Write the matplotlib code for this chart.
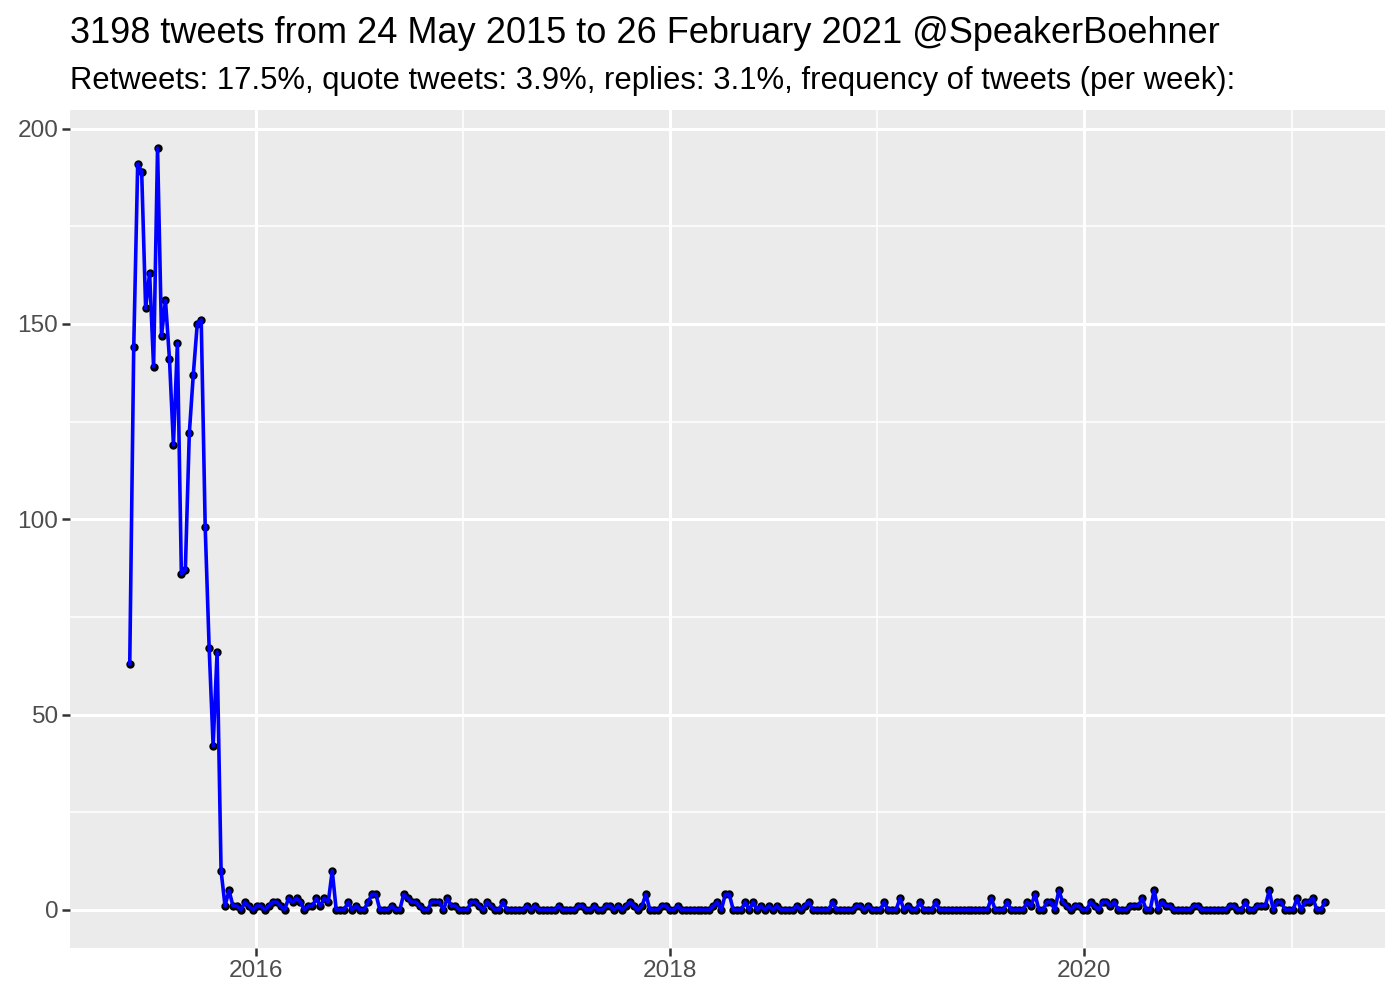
#!/usr/bin/env python3

import pandas as pd
import matplotlib
matplotlib.use("Agg")
from matplotlib import pyplot as plt
import matplotlib.dates as mdates

title = "3198 tweets from 24 May 2015 to 26 February 2021 @SpeakerBoehner"
subtitle = "Retweets: 17.5%, quote tweets: 3.9%, replies: 3.1%, frequency of tweets (per week):"

first_week = "2015-05-24"

# tweets per week
tweets_per_week = [
    63, 144, 191, 189, 154, 163, 139, 195, 147, 156, 141, 119, 145, 86, 87,
    122, 137, 150, 151, 98, 67, 42, 66, 10, 1, 5,
    1, 1, 0, 2, 1, 0, 1, 1, 0, 1,
    2, 2, 1, 0, 3, 2, 3, 2, 0, 1,
    1, 3, 1, 3, 2, 10, 0, 0, 0, 2,
    0, 1, 0, 0, 2, 4, 4, 0, 0, 0,
    1, 0, 0, 4, 3, 2, 2, 1, 0, 0,
    2, 2, 2, 0, 3, 1, 1, 0, 0, 0,
    2, 2, 1, 0, 2, 1, 0, 0, 2, 0,
    0, 0, 0, 0, 1, 0, 1, 0, 0, 0,
    0, 0, 1, 0, 0, 0, 0, 1, 1, 0,
    0, 1, 0, 0, 1, 1, 0, 1, 0, 1,
    2, 1, 0, 1, 4, 0, 0, 0, 1, 1,
    0, 0, 1, 0, 0, 0, 0, 0, 0, 0,
    0, 1, 2, 0, 4, 4, 0, 0, 0, 2,
    0, 2, 0, 1, 0, 1, 0, 1, 0, 0,
    0, 0, 1, 0, 1, 2, 0, 0, 0, 0,
    0, 2, 0, 0, 0, 0, 0, 1, 1, 0,
    1, 0, 0, 0, 2, 0, 0, 0, 3, 0,
    1, 0, 0, 2, 0, 0, 0, 2, 0, 0,
    0, 0, 0, 0, 0, 0, 0, 0, 0, 0,
    0, 3, 0, 0, 0, 2, 0, 0, 0, 0,
    2, 1, 4, 0, 0, 2, 2, 0, 5, 2,
    1, 0, 1, 1, 0, 0, 2, 1, 0, 2,
    2, 1, 2, 0, 0, 0, 1, 1, 1, 3,
    0, 0, 5, 0, 2, 1, 1, 0, 0, 0,
    0, 0, 1, 1, 0, 0, 0, 0, 0, 0,
    0, 1, 1, 0, 0, 2, 0, 0, 1, 1,
    1, 5, 0, 2, 2, 0, 0, 0, 3, 0,
    2, 2, 3, 0, 0, 2,
]

y_ticks = [0, 50, 100, 150, 200]
y_minor = [25, 75, 125, 175]


def main():
    plt.rcParams["font.family"] = ["Liberation Sans", "DejaVu Sans"]

    weeks = pd.date_range(start=first_week, periods=len(tweets_per_week), freq="7D")

    fig = plt.figure(figsize=(7, 5), dpi=200)
    ax = fig.add_axes([0.05, 0.052, 0.939, 0.838])
    ax.set_facecolor("#EBEBEB")

    ax.plot(weeks, tweets_per_week, "o", color="black", markersize=2.0, zorder=3)
    ax.plot(weeks, tweets_per_week, color="#0000FF", linewidth=1.3, zorder=4)

    # ggplot style 5% expansion
    span = weeks[-1] - weeks[0]
    ax.set_xlim(weeks[0] - span * 0.05, weeks[-1] + span * 0.05)
    lo, hi = min(tweets_per_week), max(tweets_per_week)
    ax.set_ylim(lo - (hi - lo) * 0.05, hi + (hi - lo) * 0.05)

    ax.xaxis.set_major_locator(mdates.YearLocator(2))
    ax.xaxis.set_major_formatter(mdates.DateFormatter("%Y"))
    ax.xaxis.set_minor_locator(mdates.YearLocator(1))
    ax.set_yticks(y_ticks)
    ax.set_yticks(y_minor, minor=True)

    ax.grid(which="major", color="white", linewidth=1.1)
    ax.grid(which="minor", color="white", linewidth=0.55)
    ax.set_axisbelow(True)
    for s in ax.spines.values():
        s.set_visible(False)

    ax.tick_params(which="major", length=2.75, width=0.9, color="#333333",
                   labelsize=8.8, labelcolor="#4D4D4D", pad=1.5)
    ax.tick_params(which="minor", length=0)

    fig.text(0.05, 0.957, title, fontsize=13.03, color="black")
    fig.text(0.05, 0.911, subtitle, fontsize=11.17, color="black")

    fig.savefig("out.png", dpi=200)


if __name__ == '__main__':
    main()
